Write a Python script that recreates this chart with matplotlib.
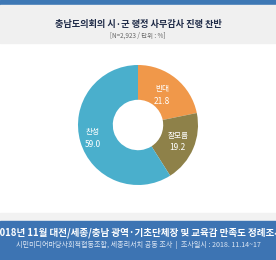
import matplotlib.pyplot as plt
from matplotlib.patches import Rectangle
import numpy as np

plt.rcParams['font.family'] = ['Noto Sans CJK KR', 'DejaVu Sans']

# 데이터
labels = ['반대', '잘모름', '찬성']
values = [21.8, 19.2, 59.0]
colors = ['#f0984a', '#8e8149', '#4aafcc']

title = '충남도의회의 시·군 행정 사무감사 진행 찬반'
subtitle = '[N=2,923 / 단위 : %]'
footer1 = '2018년 11월 대전/세종/충남 광역·기초단체장 및 교육감 만족도 정례조사'
footer2 = '시민미디어마당사회적협동조합, 세종리서치 공동 조사  |  조사일시 : 2018. 11.14~17'

W, H = 276, 260
fig = plt.figure(figsize=(W / 100, H / 100), dpi=100)
fig.patch.set_facecolor('white')


def band(y0, y1, color):
    # 픽셀 좌표(위에서부터)로 가로 띠 그리기
    fig.patches.append(Rectangle((0, 1 - y1 / H), 1, (y1 - y0) / H,
                                 transform=fig.transFigure, color=color,
                                 zorder=0))


band(0, 5, '#3e78b5')
band(5, 43, '#f0f0f0')
band(213, 221, '#f2f2f2')
band(221, 260, '#3d74b3')

fig.text(0.5, 1 - 24 / H, title, ha='center', va='center',
         fontsize=6.6, fontweight='bold', color='#1f2b48')
fig.text(0.5, 1 - 35.5 / H, subtitle, ha='center', va='center',
         fontsize=4.6, color='#666666')

# 원본 이미지처럼 양 끝이 살짝 잘리는 제목줄
fig.text(0.5, 1 - 233 / H, footer1, ha='center', va='center',
         fontsize=6.85, fontweight='bold', color='white')
fig.text(0.5, 1 - 245 / H, footer2, ha='center', va='center',
         fontsize=5.1, color='#dde7f4')

# 도넛 차트
cx, cy, r = 138, 125, 60
ax = fig.add_axes([(cx - r) / W, 1 - (cy + r) / H, 2 * r / W, 2 * r / H])
wedges, _ = ax.pie(values, colors=colors, startangle=90, counterclock=False,
                   radius=1, wedgeprops=dict(width=0.58, linewidth=0))
ax.set_aspect('equal')
ax.set_xlim(-1, 1)
ax.set_ylim(-1, 1)
ax.axis('off')

dist = [0.64, 0.72, 0.78]
for w, lab, val, d in zip(wedges, labels, values, dist):
    ang = np.deg2rad((w.theta1 + w.theta2) / 2)
    x, y = d * np.cos(ang), d * np.sin(ang)
    ax.text(x, y + 0.1, lab, ha='center', va='center', fontsize=5.5,
            color='white')
    ax.text(x, y - 0.1, f'{val:.1f}', ha='center', va='center', fontsize=6,
            color='white')

fig.savefig('out.png', dpi=100)
